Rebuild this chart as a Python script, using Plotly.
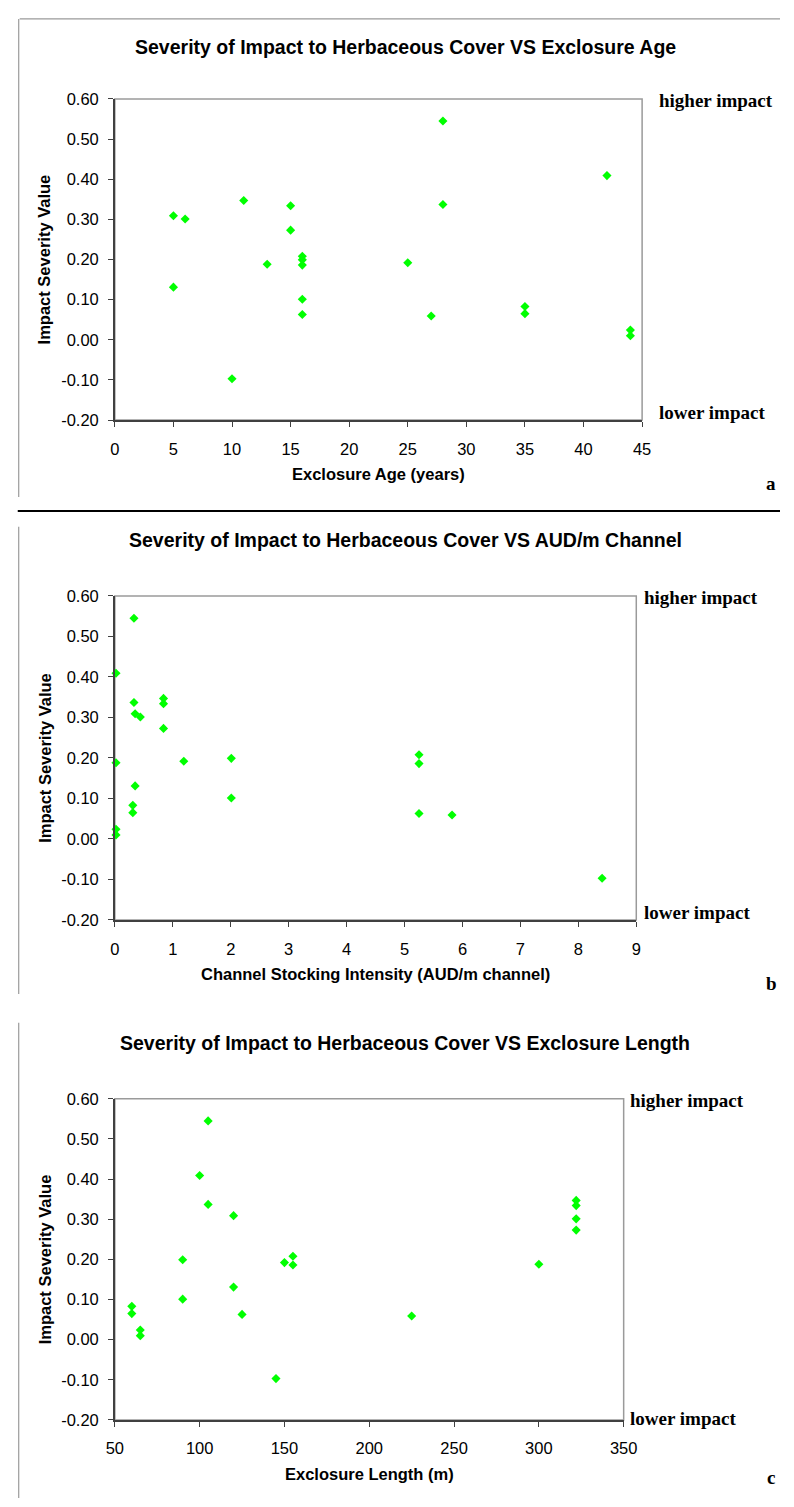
import plotly.graph_objects as go

# Impact severity for each exclosure site
impact = [0.545, 0.409, 0.347, 0.337, 0.334, 0.309, 0.301, 0.273, 0.208, 0.199, 0.192,
          0.188, 0.186, 0.131, 0.101, 0.083, 0.065, 0.063, 0.059, 0.024, 0.010, -0.097]

# Exclosure age (years)
age = [28, 42, 11, 28, 15, 5, 6, 15, 16, 16, 25, 13, 16, 5, 16, 35, 35, 16, 27, 44, 44, 10]

# Channel stocking intensity (AUD/m channel)
aud = [0.33, 0.02, 0.84, 0.33, 0.84, 0.35, 0.44, 0.84, 5.25, 2.01, 1.19,
       0.02, 5.25, 0.35, 2.01, 0.31, 0.31, 5.25, 5.82, 0.02, 0.02, 8.41]

# Exclosure length (m)
length = [105, 100, 322, 105, 322, 120, 322, 322, 155, 90, 150,
          300, 155, 120, 90, 60, 60, 125, 225, 65, 65, 145]

y_ticks = [-0.2, -0.1, 0.0, 0.1, 0.2, 0.3, 0.4, 0.5, 0.6]
titles = [
    "Severity of Impact to Herbaceous Cover VS Exclosure Age",
    "Severity of Impact to Herbaceous Cover VS AUD/m Channel",
    "Severity of Impact to Herbaceous Cover VS Exclosure Length",
]
x_titles = [
    "Exclosure Age (years)",
    "Channel Stocking Intensity (AUD/m channel)",
    "Exclosure Length (m)",
]
x_ranges = [(0, 45, 5), (0, 9, 1), (50, 350, 50)]
panel_letters = ["a", "b", "c"]
y_label = "Impact Severity Value"

W, H = 794, 1507

# plot-area boxes in pixels: left, right, top, bottom
boxes = [(109, 652, 91, 416), (109, 646, 594, 922), (109, 633, 1103, 1428)]
title_y = [38, 537, 1047]
xtitle_y = [471, 977, 1483]
letter_y = [480, 986, 1486]

SANS = "Liberation Sans, Arial, sans-serif"
SERIF = "Liberation Serif, Times New Roman, serif"
AX = "#404040"


def fx(px):
    return px / W


def fy(py):
    return 1 - py / H


fig = go.Figure()
annotations = []
shapes = []
xs_all = [age, aud, length]

for i in range(3):
    n = "" if i == 0 else str(i + 1)
    l, r, t, b = boxes[i]
    lo, hi, step = x_ranges[i]
    xticks = list(range(lo, hi + 1, step))

    fig.add_trace(go.Scatter(
        x=xs_all[i], y=impact, mode="markers",
        marker=dict(symbol="diamond", size=7, color="#00ff00", line=dict(width=0)),
        xaxis="x" + n, yaxis="y" + n, showlegend=False, cliponaxis=False,
    ))

    fig.update_layout(**{
        "xaxis" + n: dict(
            domain=[fx(l), fx(r)], range=[lo, hi], anchor="y" + n,
            tickvals=xticks, ticktext=[str(v) for v in xticks],
            showline=True, linecolor=AX, linewidth=1.5,
            ticks="outside", ticklen=5, tickwidth=1.2, tickcolor=AX,
            showgrid=False, zeroline=False, ticklabelstandoff=8,
            tickfont=dict(family=SANS, size=16.5, color="black"),
        ),
        "yaxis" + n: dict(
            domain=[fy(b), fy(t)], range=[-0.2, 0.6], anchor="x" + n,
            tickvals=y_ticks, ticktext=[f"{v:.2f}" for v in y_ticks],
            showline=True, linecolor=AX, linewidth=1.5,
            ticks="outside", ticklen=5, tickwidth=1.2, tickcolor=AX,
            showgrid=False, zeroline=False, ticklabelstandoff=6,
            tickfont=dict(family=SANS, size=16.5, color="black"),
        ),
    })

    # light plot-area frame
    shapes.append(dict(type="rect", xref="paper", yref="paper",
                       x0=fx(l), x1=fx(r), y0=fy(b), y1=fy(t),
                       line=dict(color="#9a9a9a", width=1.5), layer="below"))

    cx = fx((l + r) / 2)
    annotations += [
        dict(text="<b>" + titles[i] + "</b>", x=fx(408), y=fy(title_y[i]),
             xref="paper", yref="paper", showarrow=False, xanchor="center", yanchor="middle",
             font=dict(family=SANS, size=19.5, color="black")),
        dict(text="<b>" + x_titles[i] + "</b>", x=cx, y=fy(xtitle_y[i]),
             xref="paper", yref="paper", showarrow=False, xanchor="center", yanchor="middle",
             font=dict(family=SANS, size=16.5, color="black")),
        dict(text="<b>" + y_label + "</b>", x=fx(37), y=fy((t + b) / 2), textangle=-90,
             xref="paper", yref="paper", showarrow=False, xanchor="center", yanchor="middle",
             font=dict(family=SANS, size=16.5, color="black")),
        dict(text="<b>higher impact</b>", x=fx(r + (15 if i == 0 else (6 if i == 1 else 4))),
             y=fy(t + 2), xref="paper", yref="paper", showarrow=False,
             xanchor="left", yanchor="middle",
             font=dict(family=SERIF, size=19, color="black")),
        dict(text="<b>lower impact</b>", x=fx(r + (15 if i == 0 else (6 if i == 1 else 4))),
             y=fy(b - 8 if i < 2 else b - 1), xref="paper", yref="paper", showarrow=False,
             xanchor="left", yanchor="middle",
             font=dict(family=SERIF, size=19, color="black")),
        dict(text="<b>" + panel_letters[i] + "</b>", x=fx(785), y=fy(letter_y[i]),
             xref="paper", yref="paper", showarrow=False, xanchor="center", yanchor="middle",
             font=dict(family=SERIF, size=19, color="black")),
    ]

# page frame lines around the panels
frame = [
    (11, 10, 794, 10, "#9a9a9a", 1.2),     # top of panel a
    (10, 10, 10, 494, "#9a9a9a", 1.2),     # left of panel a
    (9, 508, 794, 508, "#000000", 2),      # divider between a and b
    (10, 524, 10, 997, "#9a9a9a", 1.2),    # left of panel b
    (10, 1026, 10, 1507, "#9a9a9a", 1.2),  # left of panel c
]
for x0, y0, x1, y1, c, w in frame:
    shapes.append(dict(type="line", xref="paper", yref="paper",
                       x0=fx(x0), y0=fy(y0), x1=fx(x1), y1=fy(y1),
                       line=dict(color=c, width=w)))

fig.update_layout(
    width=W, height=H, margin=dict(l=0, r=0, t=0, b=0),
    paper_bgcolor="white", plot_bgcolor="white",
    annotations=annotations, shapes=shapes, showlegend=False,
)

fig.write_html("out.html", config={"displayModeBar": False})
